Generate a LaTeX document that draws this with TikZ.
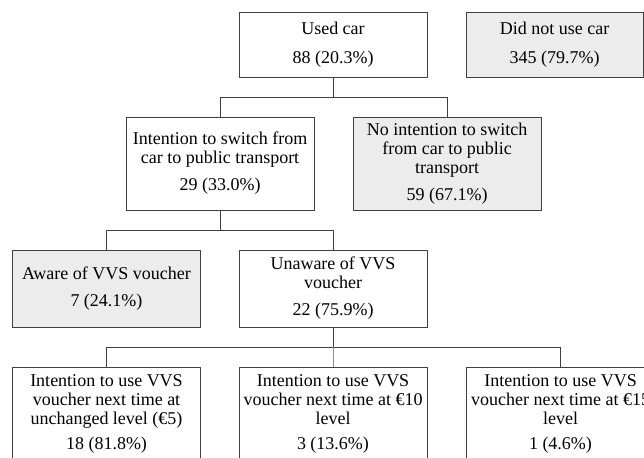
\documentclass[tikz,border=0pt]{standalone}
\usepackage{fontspec}
\setmainfont{Liberation Serif}
\definecolor{bluelink}{RGB}{120,140,210}

\begin{document}
\begin{tikzpicture}[x=1pt, y=-1pt,
    box/.style={draw=black!75, line width=0.75pt, minimum width=188pt, inner xsep=2pt, inner ysep=0pt, align=center, font=\fontsize{18}{19}\selectfont},
    shaded/.style={box, fill=gray!15},
    link/.style={draw=black!75, line width=0.75pt}]
    % Frame
    \clip (0,0) rectangle (644,457);

    % Car use
    \node[box, minimum height=65pt] (used) at (333,44.5) {Used car\\[10pt]88 (20.3\%)};
    \node[shaded, minimum width=177pt, minimum height=65pt] (nouse) at (554.5,44.5) {Did not use car\\[10pt]345 (79.7\%)};

    % Switching intention
    \node[box, minimum height=93pt] (switch) at (220,163.5) {Intention to switch from\\car to public transport\\[8pt]29 (33.0\%)};
    \node[shaded, minimum height=93pt] (noswitch) at (447,163.5) {No intention to switch\\from car to public\\transport\\[8pt]59 (67.1\%)};

    % Voucher awareness
    \node[shaded, minimum height=77pt] (aware) at (106.5,288.5) {Aware of VVS voucher\\[8pt]7 (24.1\%)};
    \node[box, minimum height=77pt] (unaware) at (333,288.5) {Unaware of VVS\\voucher\\[8pt]22 (75.9\%)};

    % Voucher level
    \node[box, minimum height=93pt] (five) at (106.5,413.5) {Intention to use VVS\\voucher next time at\\unchanged level (€5)\\[6pt]18 (81.8\%)};
    \node[box, minimum height=93pt] (ten) at (333,413.5) {Intention to use VVS\\voucher next time at €10\\level\\[6pt]3 (13.6\%)};
    \node[box, minimum height=93pt] (fifteen) at (560.5,413.5) {Intention to use VVS\\voucher next time at €15\\level\\[6pt]1 (4.6\%)};

    % Links
    \draw[link] (used.south) -- ++(0,20) coordinate (usedfork) -| (switch.north);
    \draw[link] (usedfork) -| (noswitch.north);
    \draw[link] (switch.south) -- ++(0,20) coordinate (switchfork) -| (aware.north);
    \draw[link] (switchfork) -| (unaware.north);
    \draw[link] (unaware.south) -- ++(0,20) coordinate (unawarefork) -| (five.north);
    \draw[link] (unawarefork) -| (fifteen.north);
    \draw[link, draw=bluelink] (unawarefork) -- (ten.north);
\end{tikzpicture}
\end{document}
